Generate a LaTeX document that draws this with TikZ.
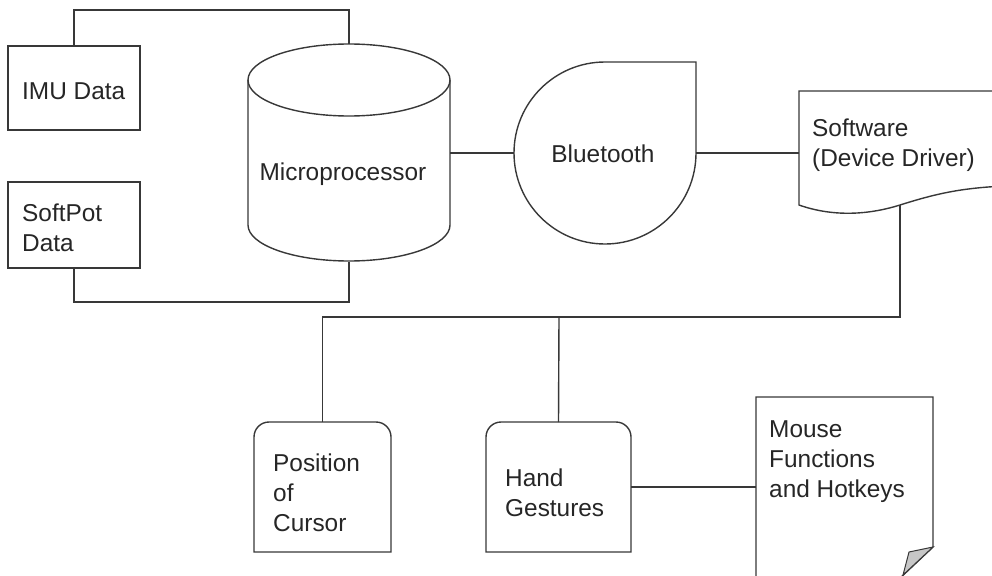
\documentclass[tikz,border=0pt]{standalone}
\usepackage{fontspec}
\setmainfont{Liberation Sans}
\begin{document}
\begin{tikzpicture}[x=1pt,y=-1pt,
  ln/.style={draw=black!78,line width=1.4pt},
  shp/.style={draw=none,inner sep=0pt,outer sep=0pt},
  lbl/.style={anchor=north west,inner sep=0pt,align=left,text=black!85,
    font=\fontsize{24.4}{30}\selectfont},
  clbl/.style={anchor=base,inner sep=0pt,text=black!85,
    font=\fontsize{24.4}{30}\selectfont}]
\useasboundingbox (0,0) rectangle (992,575);
% --- nodes (boxes)
\node[shp,ln,minimum width=132pt,minimum height=84pt] (imu) at (74,88) {};
\node[shp,ln,minimum width=132pt,minimum height=86pt] (soft) at (74,225) {};
\node[shp,minimum width=202pt,minimum height=218pt] (mp) at (349,153) {};
\node[shp,minimum width=182pt,minimum height=182pt] (bt) at (605,153) {};
\node[shp,minimum width=206pt,minimum height=114pt] (sw) at (902,148) {};
\node[shp,minimum width=137pt,minimum height=130pt] (pos) at (322.5,487) {};
\node[shp,minimum width=145pt,minimum height=130pt] (hand) at (558.5,487) {};
\node[shp,minimum width=177pt,minimum height=203pt] (mouse) at (844.5,498.5) {};
% --- shapes
% cylinder
\draw[ln] (349,80) ellipse[x radius=101,y radius=36];
\draw[ln] (248,80) -- (248,225) arc[start angle=180,end angle=0,x radius=101,y radius=36] -- (450,80);
% bluetooth teardrop
\draw[ln] (696,153) arc[start angle=0,end angle=270,radius=91] -- (696,62) -- cycle;
% software document
\draw[ln] (799,205) -- (799,91) -- (1005,91) -- (1005,186)
  .. controls (960,188) and (935,194) .. (900,205)
  .. controls (865,216) and (830,216) .. (799,205) -- cycle;
% rounded top boxes
\draw[ln] (254,552) -- (254,437) arc[start angle=180,end angle=270,radius=15]
  -- (376,422) arc[start angle=270,end angle=360,radius=15] -- (391,552) -- cycle;
\draw[ln] (486,552) -- (486,437) arc[start angle=180,end angle=270,radius=15]
  -- (616,422) arc[start angle=270,end angle=360,radius=15] -- (631,552) -- cycle;
% page with folded corner
\draw[ln] (756,620) -- (756,397) -- (933,397) -- (933,547) -- (898,580);
\draw[ln,fill=black!22,line width=1pt] (933,547) -- (909,552) -- (903,575) -- cycle;
% --- labels
\node[lbl] (timu) at (22,78) {\strut IMU Data};
\node[lbl] (tsoft) at (22,200) {\strut SoftPot\\Data};
\node[clbl] (tmp) at (343,180) {Microprocessor};
\node[clbl] (tbt) at (603,162) {Bluetooth};
\node[lbl] (tsw) at (812,115) {\strut Software\\(Device Driver)};
\node[lbl] (tpos) at (273,450) {\strut Position\\of\\Cursor};
\node[lbl] (thand) at (505,465) {\strut Hand\\Gestures};
\node[lbl] (tmouse) at (769,416) {\strut Mouse\\Functions\\and Hotkeys};
% --- connectors
\coordinate (swb) at (900,205);
\coordinate (bus) at (559,317);
\draw[ln] (imu.north) -- ++(0,-36) -| (mp.north);
\draw[ln] (soft.south) -- ++(0,34) -| (mp.south);
\draw[ln] (mp.east) -- (bt.west);
\draw[ln] (bt.east) -- (bt.east -| sw.west);
\draw[ln] (swb) |- (pos.north |- bus) -- (pos.north);
\draw[ln] (bus) -- (hand.north);
\draw[ln] (hand.east) -- (hand.east -| mouse.west);
\end{tikzpicture}
\end{document}
